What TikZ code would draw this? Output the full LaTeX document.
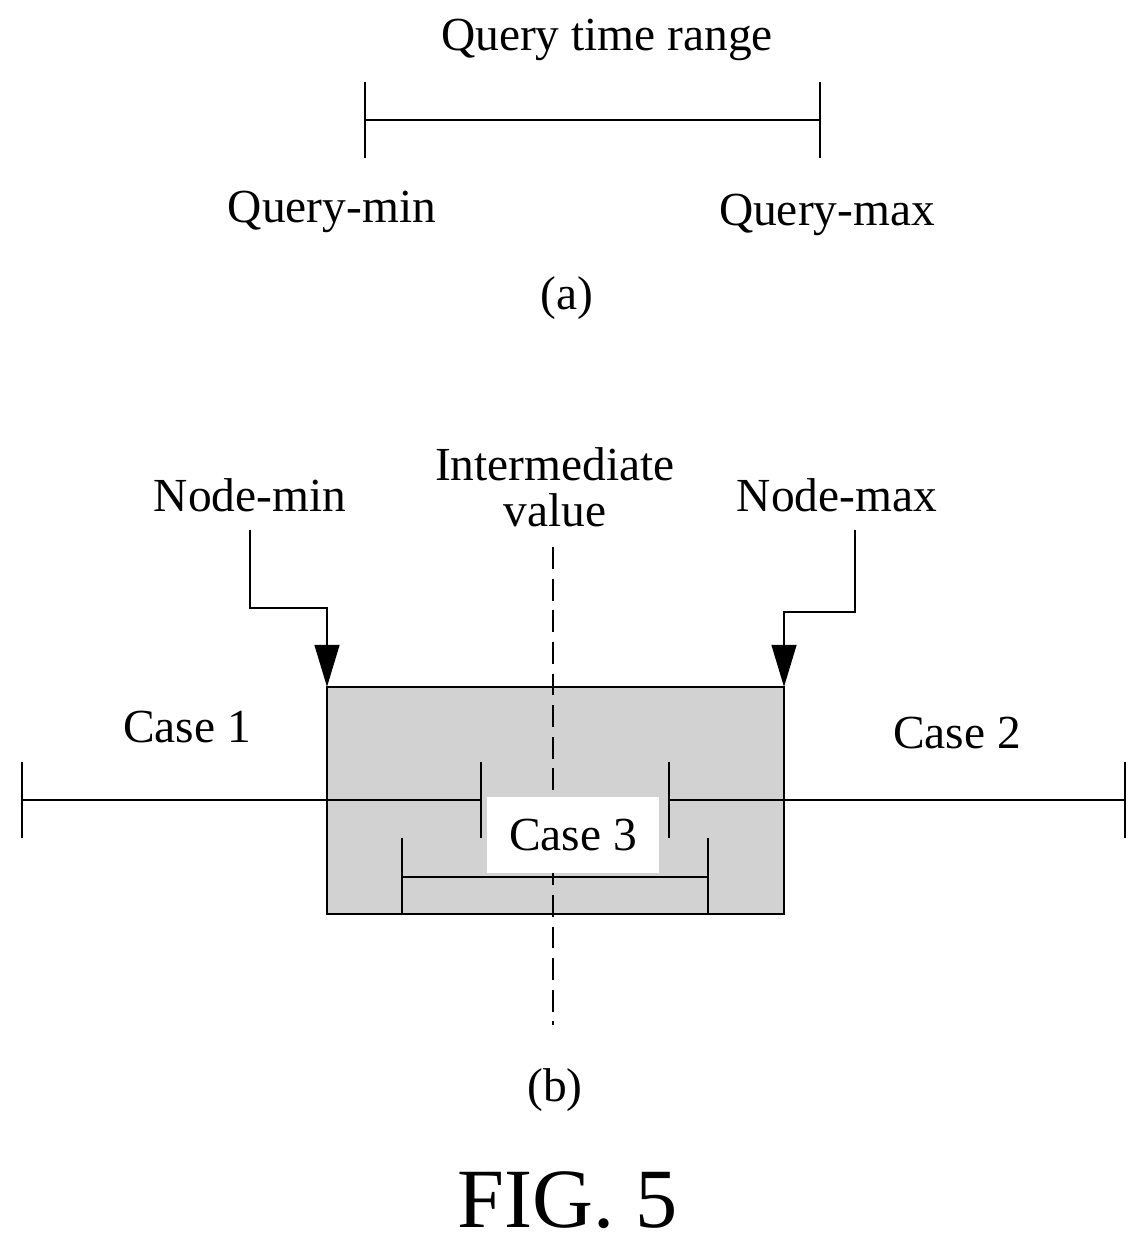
\documentclass[tikz,border=0pt]{standalone}
\usepackage{fontspec}
\setmainfont{Liberation Serif}
\usetikzlibrary{arrows.meta}
\begin{document}
\begin{tikzpicture}
  [x=0.02cm,y=-0.02cm,line width=1.6pt,
   lbl/.style={font=\fontsize{27}{30}\selectfont,inner sep=0pt,align=center},
   tick/.style={draw}]
  \useasboundingbox (0,0) rectangle (1148,1250);

  % (a)
  \node[lbl] (qr) at (607,40) {Query time range};
  \coordinate (qa) at (365,120);
  \coordinate (qb) at (820,120);
  \draw (qa) -- (qb);
  \foreach \p in {qa,qb}
    \draw (\p) ++(0,-38) -- ++(0,76);
  \node[lbl] (qmin) at (332,212) {Query-min};
  \node[lbl] (qmax) at (827,215) {Query-max};
  \node[lbl] (a) at (567,298) {(a)};

  % (b)
  \fill[gray!35] (327,687) rectangle (784,914);
  \node[lbl] (nmin) at (250,495) {Node-min};
  \node[lbl] (mid) at (555,487) {Intermediate\\[-4pt]value};
  \node[lbl] (nmax) at (837,495) {Node-max};
  \coordinate (m1) at (553,547);
  \coordinate (m2) at (553,1025);
  \draw[dash pattern=on 12.5pt off 5.5pt] (m1) -- (m2);

  \coordinate (c1a) at (22,800);
  \coordinate (c1b) at (481,800);
  \coordinate (c2a) at (669,800);
  \coordinate (c2b) at (1125,800);
  \coordinate (c3a) at (402,877);
  \coordinate (c3b) at (708,877);
  \node[lbl,fill=white,minimum width=3.46cm,minimum height=1.52cm] (c3) at (573,835) {Case 3};
  \draw (c1a) -- (c1b);
  \draw (c2a) -- (c2b);
  \draw (c3a) -- (c3b);
  \foreach \p in {c1a,c1b,c2a,c2b}
    \draw (\p) ++(0,-38) -- ++(0,76);
  \foreach \p in {c3a,c3b}
    \draw (\p) ++(0,-39) -- ++(0,76);
  \draw (327,687) rectangle (784,914);
  \node[lbl] (c1) at (187,727) {Case 1};
  \node[lbl] (c2) at (957,733) {Case 2};

  \coordinate (n1) at (250,530);
  \coordinate (n2) at (855,530);
  \draw[-{Triangle[length=24pt,width=14pt]}] (n1) |- (327,608) -- (327,687);
  \draw[-{Triangle[length=24pt,width=14pt]}] (n2) |- (784,612) -- (784,687);

  \node[lbl] (b) at (555,1090) {(b)};
  \node[font=\fontsize{48}{52}\selectfont,inner sep=0pt] (fig) at (568,1200) {FIG. 5};
\end{tikzpicture}
\end{document}
